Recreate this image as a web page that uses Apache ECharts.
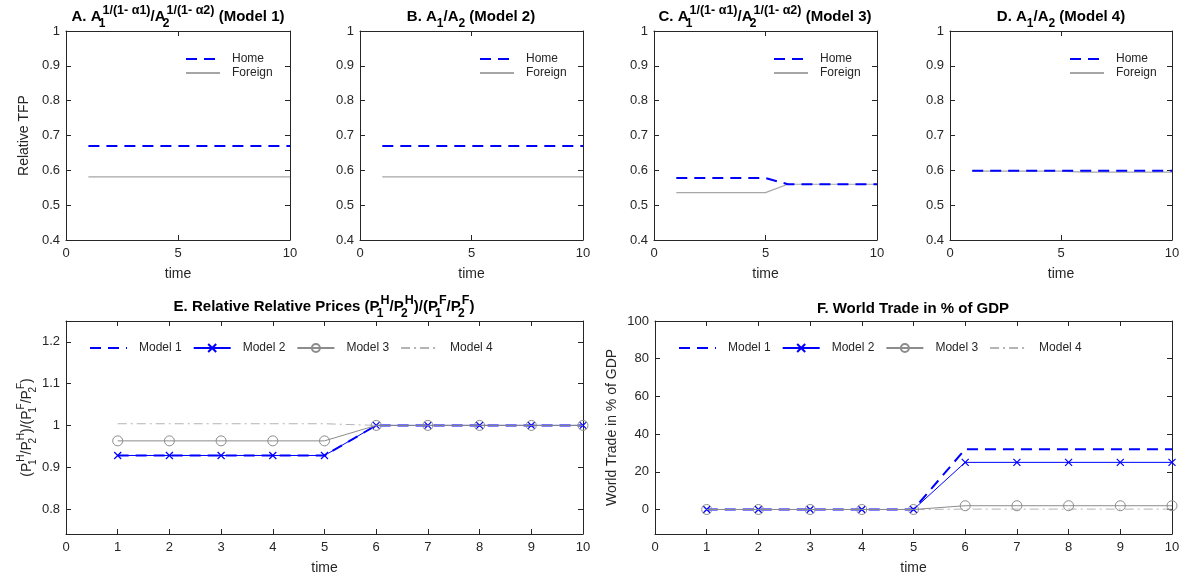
<!DOCTYPE html>
<html><head><meta charset="utf-8">
<script src="https://cdn.jsdelivr.net/npm/echarts@6/dist/echarts.min.js"></script>
<style>html,body{margin:0;padding:0;background:#fff}#c{width:1185px;height:577px}</style>
</head><body><div id="c"></div>
<script>
// ---------- data ----------
const time = [1,2,3,4,5,6,7,8,9,10];
const aHome    = [0.67,0.67,0.67,0.67,0.67,0.67,0.67,0.67,0.67,0.67];
const aForeign = [0.581,0.581,0.581,0.581,0.581,0.581,0.581,0.581,0.581,0.581];
const bHome    = [0.67,0.67,0.67,0.67,0.67,0.67,0.67,0.67,0.67,0.67];
const bForeign = [0.581,0.581,0.581,0.581,0.581,0.581,0.581,0.581,0.581,0.581];
const cHome    = [0.578,0.578,0.578,0.578,0.578,0.560,0.560,0.560,0.560,0.560];
const cForeign = [0.536,0.536,0.536,0.536,0.536,0.560,0.560,0.560,0.560,0.560];
const dHome    = [0.599,0.599,0.599,0.599,0.599,0.599,0.599,0.599,0.599,0.599];
const dForeign = [0.598,0.598,0.598,0.598,0.598,0.595,0.595,0.595,0.595,0.595];
const eModel1 = [0.928,0.928,0.928,0.928,0.928,1.0,1.0,1.0,1.0,1.0];
const eModel2 = [0.928,0.928,0.928,0.928,0.928,1.0,1.0,1.0,1.0,1.0];
const eModel3 = [0.963,0.963,0.963,0.963,0.963,1.0,1.0,1.0,1.0,1.0];
const eModel4 = [1.004,1.004,1.004,1.004,1.004,1.0,1.0,1.0,1.0,1.0];
const fModel1 = [0,0,0,0,0,32,32,32,32,32];
const fModel2 = [0,0,0,0,0,25,25,25,25,25];
const fModel3 = [0,0,0,0,0,2,2,2,2,2];
const fModel4 = [0,0,0,0,0,0.2,0.2,0.2,0.2,0.2];
const eYTicks = [0.8,0.9,1.0,1.1,1.2];
const fYTicks = [0,20,40,60,80,100];

// ---------- styles ----------
const FONT = 'Liberation Sans, Arial, Helvetica, sans-serif';
const AX = '#262626';
const BLUE = '#0000ff';
const GRAY3 = '#8c8c8c';
const GRAY4 = '#b4b4b4';
const FGRAY = '#a6a6a6';
const CLEAR = 'rgba(0,0,0,0)';
const XSYM = 'path://M0,0L10,10M0,10L10,0';

const grids = [
  {left:66, top:31, width:224, height:209},
  {left:360, top:31, width:223, height:209},
  {left:654, top:31, width:223, height:209},
  {left:950, top:31, width:222, height:209},
  {left:66, top:321, width:517, height:213},
  {left:655, top:321, width:517, height:213}
];

function pair(arr){ return time.map((t,i)=>[t,arr[i]]); }

const xAxis = [], yAxis = [];
function addAxes(gi, xInt, yMin, yMax, yInt, yCustom, yName, yNameGap, yRich){
  const tick = {show:true,inside:true,length:5,lineStyle:{color:AX}};
  const common = {gridIndex:gi, splitLine:{show:false},
    axisLine:{show:true,onZero:false,lineStyle:{color:AX,width:1}}, axisTick:tick};
  xAxis.push(Object.assign({}, common, {type:'value', min:0, max:10, interval:xInt, position:'bottom',
    axisLabel:{color:AX, fontSize:13, fontFamily:FONT, margin:7},
    name:'time', nameLocation:'middle', nameGap:27, nameTextStyle:{color:AX,fontSize:14,fontFamily:FONT}}));
  xAxis.push(Object.assign({}, common, {type:'value', min:0, max:10, interval:xInt, position:'top', axisLabel:{show:false}}));
  const yl = Object.assign({}, common, {type:'value', min:yMin, max:yMax, position:'left',
    axisLabel:{color:AX, fontSize:13, fontFamily:FONT, margin:6}});
  const yr = Object.assign({}, common, {type:'value', min:yMin, max:yMax, position:'right', axisLabel:{show:false}});
  if (yCustom) {
    yl.axisLabel.customValues = yCustom;
    yl.axisTick = Object.assign({}, tick, {customValues:yCustom});
    yr.axisTick = Object.assign({}, tick, {customValues:yCustom});
  } else { yl.interval = yInt; yr.interval = yInt; }
  if (yName) {
    yl.name = yName; yl.nameLocation='middle'; yl.nameGap=yNameGap; yl.nameRotate=90;
    yl.nameTextStyle = {color:AX, fontSize:14, fontFamily:FONT, lineHeight:22, rich: yRich || {}};
  }
  yAxis.push(yl); yAxis.push(yr);
}
const subsup = {
  b:{fontSize:10, lineHeight:11, verticalAlign:'bottom', width:1, fontFamily:FONT, color:AX},
  p:{fontSize:10, lineHeight:11, verticalAlign:'top', fontFamily:FONT, color:AX}
};
addAxes(0,5,0.4,1,0.1,null,'Relative TFP',31);
addAxes(1,5,0.4,1,0.1,null);
addAxes(2,5,0.4,1,0.1,null);
addAxes(3,5,0.4,1,0.1,null);
addAxes(4,1,0.74,1.25,null,eYTicks,'(P{b|1}{p|H}/P{b|2}{p|H})/(P{b|1}{p|F}/P{b|2}{p|F})',26,subsup);
addAxes(5,1,-13,100,null,fYTicks,'World Trade in % of GDP',31);

// series without visible markers keep a transparent circle so the legend icon is a bare line
function plain(name, gi, arr, color, width, type, z){
  return {name:name, type:'line', xAxisIndex:gi*2, yAxisIndex:gi*2, data:pair(arr),
    symbol:'circle', showSymbol:false, lineStyle:{color:color, width:width, type:type},
    itemStyle:{color:CLEAR, borderColor:CLEAR, borderWidth:0}, emphasis:{disabled:true}, z:z};
}
const series = [];
function homeForeign(gi, home, foreign){
  series.push(plain('Home', gi, home, BLUE, 2, [11,7], 3));
  series.push(plain('Foreign', gi, foreign, FGRAY, 1.2, 'solid', 2));
}
homeForeign(0,aHome,aForeign);
homeForeign(1,bHome,bForeign);
homeForeign(2,cHome,cForeign);
homeForeign(3,dHome,dForeign);

function models(gi, m1, m2, m3, m4){
  const xa = gi*2, ya = gi*2;
  series.push(plain('Model 1', gi, m1, BLUE, 2, [11,7], 2));
  series.push({name:'Model 2', type:'line', xAxisIndex:xa, yAxisIndex:ya, data:pair(m2), symbol:XSYM, symbolSize:7,
    lineStyle:{color:BLUE, width:1}, itemStyle:{color:BLUE, borderColor:BLUE, borderWidth:1.2}, emphasis:{disabled:true}, z:3});
  series.push({name:'Model 3', type:'line', xAxisIndex:xa, yAxisIndex:ya, data:pair(m3), symbol:'circle', symbolSize:10,
    lineStyle:{color:GRAY3, width:1}, itemStyle:{color:CLEAR, borderColor:GRAY3, borderWidth:1}, emphasis:{disabled:true}, z:4});
  series.push(plain('Model 4', gi, m4, GRAY4, 1, [9,4,2,4], 1));
}
models(4,eModel1,eModel2,eModel3,eModel4);
models(5,fModel1,fModel2,fModel3,fModel4);

const legendText = {color:AX, fontSize:12, fontFamily:FONT, padding:[0,0,0,7]};
const legends = [180,474,768,1064].map(l => ({left:l, top:48, orient:'vertical', itemWidth:34, itemHeight:14, itemGap:2,
  data:['Home','Foreign'], textStyle:legendText, selectedMode:false}));
legends.push({left:84, top:337, orient:'horizontal', itemWidth:37, itemHeight:10, itemGap:11,
  data:['Model 1','Model 2','Model 3','Model 4'], textStyle:legendText, selectedMode:false});
legends.push({left:673, top:337, orient:'horizontal', itemWidth:37, itemHeight:10, itemGap:11,
  data:['Model 1','Model 2','Model 3','Model 4'], textStyle:legendText, selectedMode:false});

const titleRich = {
  b:{fontSize:12, fontWeight:'bold', lineHeight:12, verticalAlign:'bottom', width:1, fontFamily:FONT, fill:'#000'},
  s:{fontSize:12, fontWeight:'bold', lineHeight:12, verticalAlign:'bottom', fontFamily:FONT, fill:'#000'},
  p:{fontSize:12.5, fontWeight:'bold', lineHeight:12, verticalAlign:'top', fontFamily:FONT, fill:'#000'}
};
function title(x, y, text){
  return {type:'text', x:x, y:y, silent:true, style:{text:text, rich:titleRich, fill:'#000',
    fontSize:15, fontWeight:'bold', fontFamily:FONT, lineHeight:26, align:'center', verticalAlign:'middle'}};
}
const graphic = [
  title(178, 17, 'A. A{b|1}{p|1/(1- α1)}/A{b|2}{p|1/(1- α2)} (Model 1)'),
  title(471, 17, 'B. A{s|1}/A{s|2} (Model 2)'),
  title(765, 17, 'C. A{b|1}{p|1/(1- α1)}/A{b|2}{p|1/(1- α2)} (Model 3)'),
  title(1061, 17, 'D. A{s|1}/A{s|2} (Model 4)'),
  title(324, 307, 'E. Relative Relative Prices (P{b|1}{p|H}/P{b|2}{p|H})/(P{b|1}{p|F}/P{b|2}{p|F})'),
  title(913, 309, 'F. World Trade in % of GDP')
];

const chart = echarts.init(document.getElementById('c'), null, {renderer:'canvas'});
chart.setOption({animation:false, backgroundColor:'#fff', grid:grids, xAxis:xAxis, yAxis:yAxis,
  series:series, legend:legends, graphic:graphic});
</script></body></html>
